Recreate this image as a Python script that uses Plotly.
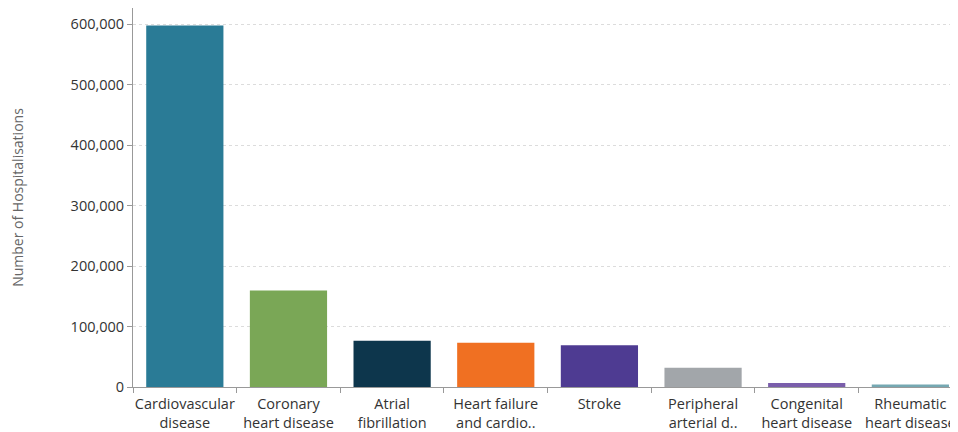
import plotly.graph_objects as go

categories = ["Cardiovascular<br>disease", "Coronary<br>heart disease", "Atrial<br>fibrillation",
              "Heart failure<br>and cardio..", "Stroke", "Peripheral<br>arterial d..",
              "Congenital<br>heart disease", "Rheumatic<br>heart disease"]
hospitalisations = [598000, 159500, 76500, 73000, 69000, 32000, 6800, 4000]
bar_colors = ["#2a7b96", "#7aa756", "#0d364c", "#f07022", "#4e3b92", "#a2a6aa", "#7a5eab", "#75a8b2"]
y_ticks = [0, 100000, 200000, 300000, 400000, 500000, 600000]

fig = go.Figure(go.Bar(
    x=categories, y=hospitalisations, marker_color=bar_colors, marker_line_width=0,
    hovertemplate="%{x}: %{y:,}<extra></extra>"))

fig.update_layout(
    width=950, height=424,
    margin=dict(l=125, r=1, t=0, b=45),
    paper_bgcolor="white", plot_bgcolor="white",
    bargap=0.255, showlegend=False,
    font=dict(family="Open Sans, sans-serif", color="#333333", size=14.5),
)
fig.update_xaxes(
    range=[-0.5, 7.45], tickson="boundaries", ticks="outside", ticklen=5,
    tickcolor="#999999", showline=True, linecolor="#999999", linewidth=1,
    showgrid=False, tickfont=dict(size=14.5, color="#333333"), tickangle=0,
    automargin=False, ticklabelstandoff=4,
)
fig.update_yaxes(
    range=[0, 627000], tickvals=y_ticks, tickformat=",", ticks="outside", ticklen=5,
    tickcolor="#999999", showline=True, linecolor="#999999", linewidth=1,
    showgrid=True, gridcolor="#dcdcdc", griddash="dot", gridwidth=1, zeroline=False,
    tickfont=dict(size=14.5, color="#333333"), automargin=False,
    title=dict(text="Number of Hospitalisations", font=dict(size=14, color="#666666"), standoff=64),
)
fig.write_html("out.html")
